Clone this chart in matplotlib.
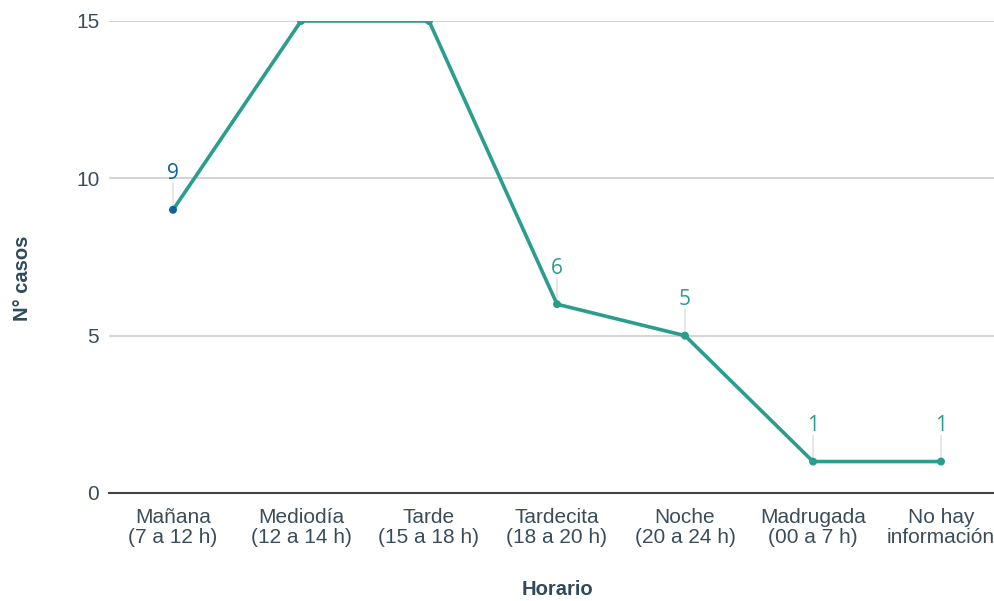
import matplotlib
matplotlib.use("Agg")
import matplotlib.pyplot as plt

categories = ["Mañana\n(7 a 12 h)", "Mediodía\n(12 a 14 h)", "Tarde\n(15 a 18 h)",
              "Tardecita\n(18 a 20 h)", "Noche\n(20 a 24 h)", "Madrugada\n(00 a 7 h)",
              "No hay\ninformación"]
values = [9, 15, 15, 6, 5, 1, 1]
yticks = [0, 5, 10, 15]

TEAL = "#2a9d8f"
BLUE = "#11609a"
TEXT = "#3b4d5a"
FONT = "Liberation Sans"

fig = plt.figure(figsize=(9.95, 6.01), dpi=100)
# axis band extends slightly past the right edge of the figure, as in the reference
ax = fig.add_axes([109/995, 108/601, 896/995, 472/601])
x = list(range(len(values)))

ax.plot(x, values, color=TEAL, lw=2.6, zorder=3, solid_joinstyle="miter")
colors = [BLUE] + [TEAL] * (len(values) - 1)
ax.scatter(x, values, s=22, color=colors, zorder=4)

ax.set_xlim(-0.5, len(values) - 0.5)
ax.set_ylim(0, 15)
ax.set_yticks(yticks)
ax.set_xticks(x)
ax.set_xticklabels(categories)
ax.grid(axis="y", color="#cccccc", lw=1.2)
ax.set_axisbelow(True)
for s in ["top", "right", "left"]:
    ax.spines[s].set_visible(False)
ax.spines["bottom"].set_color("#444444")
ax.spines["bottom"].set_linewidth(1.5)
ax.spines["bottom"].set_zorder(5)
ax.tick_params(axis="both", length=0, labelsize=15, colors=TEXT, labelfontfamily=FONT)
ax.tick_params(axis="x", pad=11)
ax.tick_params(axis="y", pad=7)
for lbl in ax.get_xticklabels():
    lbl.set_linespacing(1.08)

ax.set_ylabel("N° casos", fontsize=14.5, fontweight="bold", color="#2f4a5a", family=FONT)
ax.set_xlabel("Horario", fontsize=14.5, fontweight="bold", color="#2f4a5a", family=FONT)
ax.yaxis.set_label_coords((32 - 109) / 896, (601 - 278 - 108) / 472)
ax.xaxis.set_label_coords(0.5, (601 - 580 - 108) / 472)

for xi, v, c in zip(x, values, colors):
    if v >= 15:
        continue
    ax.annotate("", xy=(xi, v), xytext=(0, 19), textcoords="offset points",
                xycoords="data",
                arrowprops=dict(arrowstyle="-", color="#dddddd", lw=1.0,
                                shrinkA=0, shrinkB=3), zorder=2)
    ax.annotate(str(v), xy=(xi, v), xytext=(0, 26), textcoords="offset points",
                ha="center", va="center", fontsize=15, color=c, family="Open Sans")

fig.savefig("out.png", dpi=100)
